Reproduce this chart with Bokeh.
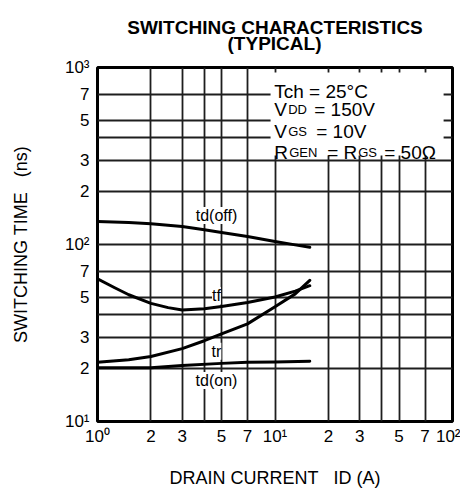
from bokeh.plotting import figure
from bokeh.models import FixedTicker, Label, BoxAnnotation
from bokeh.embed import file_html
from bokeh.resources import INLINE

# ---- data ----
id_off = [1, 1.5, 2, 3, 4, 5, 7, 10, 13, 15.7]
td_off = [135, 133, 131, 126.5, 121, 117, 111, 104, 99.5, 96.6]

id_tf = [1, 1.25, 1.5, 2, 2.5, 3, 4, 5, 7, 10, 13, 15.7]
tf = [64, 57, 52, 46.5, 44, 42.6, 43.3, 44.7, 47, 50.5, 54.5, 58.5]

id_tr = [1, 1.5, 2, 3, 4, 5, 7, 10, 13, 15.7]
tr = [21.6, 22.3, 23.3, 25.8, 28.6, 31.3, 35.6, 44.5, 52.6, 62.7]

id_on = [1, 1.5, 2, 3, 5, 7, 10, 15.7]
td_on = [20.1, 20.1, 20.15, 20.7, 21.3, 21.6, 21.7, 21.9]

x_ticks = [1, 2, 3, 5, 7, 10, 20, 30, 50, 70, 100]
x_tick_labels = ["10\u2070", "2", "3", "5", "7", "10\u00b9", "2", "3", "5", "7", "10\u00b2"]
y_ticks = [10, 20, 30, 50, 70, 100, 200, 300, 500, 700, 1000]
y_tick_labels = ["10\u00b9", "2", "3", "5", "7", "10\u00b2", "2", "3", "5", "7", "10\u00b3"]
x_grid = [1, 2, 3, 4, 5, 7, 10, 20, 30, 40, 50, 70, 100]
y_grid = [10, 20, 30, 40, 50, 70, 100, 200, 300, 400, 500, 700, 1000]

title_lines = ["SWITCHING CHARACTERISTICS", "(TYPICAL)"]

FONT = "Liberation Sans"

# multi-line titles are left-aligned inside their box: pad line 2 so it sits centred
title_text = title_lines[0] + "\n" + "\u00a0" * 19 + title_lines[1]

p = figure(x_axis_type="log", y_axis_type="log", x_range=(1, 100), y_range=(10, 1000),
           frame_width=355, frame_height=354, min_border_left=97, min_border_right=8,
           min_border_top=67, min_border_bottom=72,
           output_backend="svg", toolbar_location=None, title=title_text)

p.title.align = "center"
p.title.text_font = FONT
p.title.text_font_size = "19px"
p.title.text_font_style = "bold"
p.title.text_color = "black"
p.title.text_line_height = 0.78
p.title.standoff = 26

p.outline_line_color = "black"
p.outline_line_width = 3
p.background_fill_color = "white"
p.border_fill_color = "white"

for ax, ticks, labels in ((p.xaxis, x_ticks, x_tick_labels), (p.yaxis, y_ticks, y_tick_labels)):
    ax.ticker = FixedTicker(ticks=ticks)
    ax.major_label_overrides = {t: l for t, l in zip(ticks, labels)}
    ax.axis_line_color = None
    ax.major_tick_line_color = None
    ax.minor_tick_line_color = None
    ax.major_tick_out = 0
    ax.major_tick_in = 0
    ax.minor_tick_out = 0
    ax.major_label_text_font = FONT
    ax.major_label_text_font_size = "17px"
    ax.major_label_text_color = "black"
    ax.axis_label_text_font = FONT
    ax.axis_label_text_font_size = "18px"
    ax.axis_label_text_font_style = "normal"
    ax.axis_label_text_color = "black"

p.xaxis.major_label_standoff = 5
p.yaxis.major_label_standoff = 8
p.xaxis.axis_label = "DRAIN CURRENT\u00a0\u00a0\u00a0ID (A)"
p.yaxis.axis_label = "SWITCHING TIME\u00a0\u00a0\u00a0(ns)"
p.xaxis.axis_label_standoff = 19
p.yaxis.axis_label_standoff = 31

p.xgrid.ticker = FixedTicker(ticks=x_grid)
p.ygrid.ticker = FixedTicker(ticks=y_grid)
for g in (p.xgrid, p.ygrid):
    g.grid_line_color = "#1e1e1e"
    g.grid_line_width = 1.8

for xs, ys in ((id_off, td_off), (id_tf, tf), (id_tr, tr), (id_on, td_on)):
    p.line(xs, ys, line_color="black", line_width=3, line_join="round", line_cap="round")

# curve labels
for txt, lx, ly in (("td(off)", 4.68, 146), ("tf", 4.68, 51.5), ("tr", 4.68, 24.9), ("td(on)", 4.68, 17.05)):
    p.add_layout(Label(x=lx, y=ly, text=txt, text_align="center", text_baseline="middle",
                       text_font=FONT, text_font_size="16px", text_color="black",
                       background_fill_color="white", background_fill_alpha=1.0))

# conditions box
p.add_layout(BoxAnnotation(left=9.44, right=89.1, bottom=318, top=937, fill_color="white",
                           fill_alpha=1.0, line_alpha=0))

anchor_x = 9.9  # left edge of the condition texts
rows = [
    (731, [(0, "Tch = 25\u00b0C", 19)]),
    (579, [(0, "V", 19), (14, "DD", 13), (40, "= 150V", 19)]),
    (435, [(0, "V", 19), (14, "GS", 13), (42, "= 10V", 19)]),
    (332, [(0, "R", 19), (15, "GEN", 13), (53, "= R", 19), (84, "GS", 13), (110, "= 50\u03a9", 19)]),
]
for ly, parts in rows:
    for off, txt, fs in parts:
        p.add_layout(Label(x=anchor_x, y=ly, x_offset=off, text=txt, text_align="left",
                           text_baseline="alphabetic", text_font=FONT,
                           text_font_size=f"{fs}px", text_color="black"))

open("out.html", "w").write(file_html(p, INLINE))
